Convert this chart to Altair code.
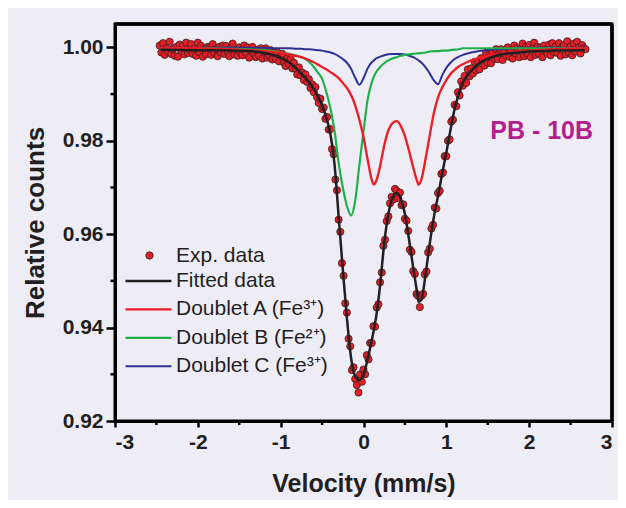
import altair as alt
import pandas as pd

# ---------------- data ----------------
comp_v = [-2.45, -2.0, -1.6, -1.4, -1.2, -1.1, -1.0, -0.9, -0.8,
          -0.75, -0.7, -0.65, -0.6, -0.55, -0.5, -0.45, -0.4, -0.35, -0.3,
          -0.25, -0.2, -0.15, -0.1, -0.05, 0.0, 0.05, 0.1, 0.125, 0.15,
          0.2, 0.25, 0.3, 0.35, 0.4, 0.45, 0.5, 0.55, 0.6, 0.65, 0.665,
          0.7, 0.75, 0.8, 0.85, 0.9, 0.95, 1.0, 1.05, 1.1, 1.15, 1.2,
          1.3, 1.4, 1.6, 1.8, 2.0, 2.3, 2.67]

fitted = [0.9995, 0.9994, 0.9993, 0.9992, 0.9988, 0.9984, 0.9978, 0.9968, 0.9953,
          0.9944, 0.9935, 0.9924, 0.9911, 0.9895, 0.9876, 0.9850, 0.9815, 0.9750, 0.9638,
          0.9525, 0.9420, 0.9335, 0.9296, 0.9288, 0.9298, 0.9333, 0.9373, 0.9395, 0.9420,
          0.9490, 0.9580, 0.9643, 0.9677, 0.9688, 0.9676, 0.9643, 0.9588, 0.9528, 0.9472, 0.9455,
          0.9460, 0.9515, 0.9580, 0.9637, 0.9682, 0.9730, 0.9775, 0.9823, 0.9868, 0.9900, 0.9924,
          0.9950, 0.9966, 0.9982, 0.9988, 0.9991, 0.9993, 0.9994]

doublet_a = [0.9999, 0.9998, 0.9996, 0.9994, 0.9992, 0.9990, 0.9988, 0.9985, 0.9981,
             0.9979, 0.9976, 0.9972, 0.9968, 0.9963, 0.9958, 0.9953, 0.9947, 0.9941, 0.9934,
             0.9924, 0.9913, 0.9898, 0.9876, 0.9845, 0.9808, 0.9760, 0.9716, 0.9706, 0.9712,
             0.9745, 0.9790, 0.9822, 0.9838, 0.9842, 0.9832, 0.9810, 0.9778, 0.9743, 0.9712, 0.9706,
             0.9718, 0.9762, 0.9812, 0.9860, 0.9893, 0.9914, 0.9930, 0.9943, 0.9952, 0.9959, 0.9964,
             0.9972, 0.9978, 0.9985, 0.9990, 0.9993, 0.9996, 0.9998]

doublet_b = [0.9998, 0.9998, 0.9997, 0.9996, 0.9994, 0.9992, 0.9989, 0.9986, 0.9982,
             0.9979, 0.9975, 0.9968, 0.9958, 0.9946, 0.9933, 0.9905, 0.9870, 0.9822, 0.9752,
             0.9700, 0.9660, 0.9640, 0.9672, 0.9748, 0.9820, 0.9888, 0.9925, 0.9937, 0.9946,
             0.9958, 0.9966, 0.9972, 0.9976, 0.9979, 0.9982, 0.9984, 0.9985, 0.9986, 0.9987, 0.9987,
             0.9988, 0.9989, 0.9991, 0.9992, 0.9992, 0.9993, 0.9993, 0.9994, 0.9995, 0.9996, 0.9998,
             0.9998, 0.9998, 0.9998, 0.9998, 0.9998, 0.9998, 0.9998]

doublet_c = [0.9999, 0.9999, 0.9999, 0.9999, 0.9999, 0.9998, 0.9998, 0.9998, 0.9997,
             0.9997, 0.9996, 0.9996, 0.9995, 0.9994, 0.9993, 0.9991, 0.9989, 0.9986, 0.9981,
             0.9975, 0.9967, 0.9954, 0.9935, 0.9920, 0.9934, 0.9955, 0.9968, 0.9972, 0.9976,
             0.9980, 0.9983, 0.9985, 0.9986, 0.9986, 0.9986, 0.9985, 0.9982, 0.9979, 0.9974, 0.9972,
             0.9967, 0.9957, 0.9944, 0.9929, 0.9921, 0.9940, 0.9956, 0.9967, 0.9975, 0.9980, 0.9984,
             0.9989, 0.9992, 0.9996, 0.9998, 0.9999, 0.9999, 0.9999]

exp_v = [-2.46, -2.44, -2.42, -2.40, -2.38, -2.36, -2.34, -2.32, -2.30, -2.28,
         -2.26, -2.24, -2.22, -2.20, -2.18, -2.16, -2.14, -2.12, -2.10, -2.08,
         -2.06, -2.04, -2.02, -2.00, -1.98, -1.96, -1.94, -1.92, -1.90, -1.88,
         -1.86, -1.84, -1.82, -1.80, -1.78, -1.76, -1.74, -1.72, -1.70, -1.68,
         -1.66, -1.64, -1.62, -1.60, -1.58, -1.56, -1.54, -1.52, -1.50, -1.48,
         -1.46, -1.44, -1.42, -1.40, -1.38, -1.36, -1.34, -1.32, -1.30, -1.28,
         -1.26, -1.24, -1.22, -1.20, -1.18, -1.16, -1.14, -1.12, -1.10, -1.08,
         -1.06, -1.04, -1.02, -1.00, -0.98, -0.96, -0.94, -0.92, -0.90, -0.88,
         -0.86, -0.84, -0.82, -0.80, -0.78, -0.76, -0.74, -0.72, -0.70, -0.68,
         -0.66, -0.64, -0.62, -0.60, -0.58, -0.56, -0.54, -0.52, -0.50, -0.48,
         -0.46, -0.44, -0.42, -0.40, -0.38, -0.36, -0.34, -0.32, -0.30, -0.28,
         -0.26, -0.24, -0.22, -0.20, -0.18, -0.16, -0.14, -0.12, -0.10, -0.08,
         -0.06, -0.04, -0.02, 0.00, 0.02, 0.04, 0.06, 0.08, 0.10, 0.12,
         0.14, 0.16, 0.18, 0.20, 0.22, 0.24, 0.26, 0.28, 0.30, 0.32,
         0.34, 0.36, 0.38, 0.40, 0.42, 0.44, 0.46, 0.48, 0.50, 0.52,
         0.54, 0.56, 0.58, 0.60, 0.62, 0.64, 0.66, 0.68, 0.70, 0.72,
         0.74, 0.76, 0.78, 0.80, 0.82, 0.84, 0.86, 0.88, 0.90, 0.92,
         0.94, 0.96, 0.98, 1.00, 1.02, 1.04, 1.06, 1.08, 1.10, 1.12,
         1.14, 1.16, 1.18, 1.20, 1.22, 1.24, 1.26, 1.28, 1.30, 1.32,
         1.34, 1.36, 1.38, 1.40, 1.42, 1.44, 1.46, 1.48, 1.50, 1.52,
         1.54, 1.56, 1.58, 1.60, 1.62, 1.64, 1.66, 1.68, 1.70, 1.72,
         1.74, 1.76, 1.78, 1.80, 1.82, 1.84, 1.86, 1.88, 1.90, 1.92,
         1.94, 1.96, 1.98, 2.00, 2.02, 2.04, 2.06, 2.08, 2.10, 2.12,
         2.14, 2.16, 2.18, 2.20, 2.22, 2.24, 2.26, 2.28, 2.30, 2.32,
         2.34, 2.36, 2.38, 2.40, 2.42, 2.44, 2.46, 2.48, 2.50, 2.52,
         2.54, 2.56, 2.58, 2.60, 2.62, 2.64, 2.66, 2.68]

exp_counts = [1.0004, 0.9989, 1.0009, 0.9984, 0.9998, 0.9991, 1.0012, 0.9986, 0.9997, 0.9982,
              1.0001, 0.9980, 1.0006, 0.9992, 1.0003, 0.9985, 1.0010, 0.9988, 0.9995, 1.0007,
              0.9986, 0.9998, 0.9982, 1.0010, 0.9989, 1.0003, 0.9980, 0.9997, 0.9985, 1.0001,
              0.9999, 0.9984, 1.0007, 0.9988, 0.9996, 0.9981, 1.0001, 0.9989, 1.0004, 0.9986,
              1.0003, 0.9990, 0.9981, 0.9999, 1.0008, 0.9985, 0.9994, 0.9982, 1.0000, 0.9988,
              0.9983, 1.0004, 0.9988, 1.0000, 0.9978, 0.9994, 1.0001, 0.9985, 0.9979, 0.9995,
              0.9982, 0.9998, 0.9976, 0.9992, 0.9998, 0.9978, 0.9983, 0.9994, 0.9974, 0.9989,
              0.9976, 0.9989, 0.9970, 0.9981, 0.9986, 0.9967, 0.9960, 0.9976, 0.9964, 0.9975,
              0.9955, 0.9967, 0.9954, 0.9942, 0.9957, 0.9940, 0.9946, 0.9930, 0.9942, 0.9926,
              0.9932, 0.9913, 0.9921, 0.9904, 0.9915, 0.9893, 0.9881, 0.9890, 0.9868, 0.9871,
              0.9847, 0.9851, 0.9824, 0.9825, 0.9782, 0.9771, 0.9717, 0.9694, 0.9631, 0.9605,
              0.9538, 0.9511, 0.9452, 0.9432, 0.9376, 0.9360, 0.9309, 0.9315, 0.9290, 0.9277,
              0.9261, 0.9300, 0.9284, 0.9310, 0.9300, 0.9341, 0.9332, 0.9367, 0.9367, 0.9403,
              0.9402, 0.9443, 0.9450, 0.9497, 0.9518, 0.9575, 0.9588, 0.9628, 0.9638, 0.9666,
              0.9680, 0.9674, 0.9697, 0.9693, 0.9677, 0.9689, 0.9662, 0.9664, 0.9633, 0.9629,
              0.9607, 0.9567, 0.9562, 0.9521, 0.9515, 0.9472, 0.9468, 0.9444, 0.9468, 0.9472,
              0.9514, 0.9520, 0.9561, 0.9569, 0.9612, 0.9620, 0.9657, 0.9655, 0.9688, 0.9693,
              0.9729, 0.9732, 0.9767, 0.9767, 0.9800, 0.9803, 0.9841, 0.9845, 0.9877, 0.9874,
              0.9904, 0.9897, 0.9927, 0.9918, 0.9939, 0.9924, 0.9953, 0.9938, 0.9955, 0.9944,
              0.9969, 0.9951, 0.9969, 0.9953, 0.9977, 0.9973, 0.9961, 0.9988, 0.9967, 0.9984,
              0.9966, 0.9988, 0.9975, 0.9996, 0.9975, 0.9987, 0.9996, 0.9973, 0.9992, 0.9982,
              1.0000, 0.9980, 0.9992, 0.9976, 1.0004, 0.9986, 0.9998, 0.9979, 0.9997, 1.0008,
              0.9981, 1.0001, 0.9986, 1.0005, 0.9979, 0.9997, 1.0010, 0.9984, 1.0001, 0.9986,
              1.0000, 0.9979, 1.0004, 0.9995, 0.9986, 1.0006, 0.9983, 1.0009, 0.9990, 1.0002,
              0.9988, 1.0009, 0.9982, 1.0000, 1.0005, 0.9985, 1.0013, 0.9989, 1.0002, 0.9983,
              1.0008, 0.9991, 1.0012, 1.0000, 0.9987, 1.0005, 0.9998, 0.9996]

series_names = ["Fitted data", "Doublet A (Fe\u00b3\u207a)", "Doublet B (Fe\u00b2\u207a)", "Doublet C (Fe\u00b3\u207a)"]
series_colors = ["#231F20", "#EE1D25", "#1EB04B", "#2E3192"]
series_widths = [2.5, 2.0, 2.5, 1.0]

x_range = [-3, 3]
y_range = [0.92, 1.005]
x_ticks = [-3, -2, -1, 0, 1, 2, 3]
x_minor = [-2.5, -1.5, -0.5, 0.5, 1.5, 2.5]
y_ticks = [0.92, 0.94, 0.96, 0.98, 1.00]
y_minor = [0.93, 0.95, 0.97, 0.99]

sample_label = ["PB - 10B"]
label_v = [1.53]
label_c = [0.982]

# ---------------- tables ----------------
rows = []
for name, vals in [(series_names[3], doublet_c), (series_names[2], doublet_b),
                   (series_names[1], doublet_a), (series_names[0], fitted)]:
    for v, c in zip(comp_v, vals):
        rows.append({"v": v, "c": c, "series": name})
lines_df = pd.DataFrame(rows)
exp_df = pd.DataFrame({"v": exp_v, "c": exp_counts, "kind": ["Exp. data"] * len(exp_v)})
label_df = pd.DataFrame({"v": label_v, "c": label_c, "text": sample_label})
# frame edges (top and right) along the scale limits
frame_df = pd.DataFrame({"v": [x_range[0], x_range[1]], "v2": [x_range[1], x_range[1]],
                         "c": [y_range[1], y_range[0]], "c2": [y_range[1], y_range[1]]})

FONT = "Liberation Sans"
W, H = 497, 397

x_enc = alt.X("v:Q", scale=alt.Scale(domain=x_range, nice=False, zero=False),
              axis=alt.Axis(values=x_ticks, title="Velocity (mm/s)", tickSize=6,
                            labelPadding=4, titlePadding=19, titleFontSize=25,
                            labelExpr="datum.value < 0 ? '-' + abs(datum.value) : '' + datum.value"))
y_enc = alt.Y("c:Q", scale=alt.Scale(domain=y_range, nice=False, zero=False),
              axis=alt.Axis(values=y_ticks, title="Relative counts", format=".2f",
                            tickSize=9, labelPadding=3, titlePadding=14, titleFontSize=26))

leg_common = dict(title=None, orient="none", labelFont=FONT, labelFontSize=21,
                  labelColor="#231F20", labelLimit=300, clipHeight=21, padding=0)

leg_points = alt.Legend(legendX=24, legendY=221, symbolType="circle", symbolSize=55,
                        symbolStrokeColor="#3a2020", symbolStrokeWidth=0.8,
                        labelOffset=16, **leg_common)
leg_lines = alt.Legend(legendX=9, legendY=246.5, symbolType="stroke", symbolSize=2116,
                       labelOffset=3, rowPadding=6.4, **leg_common)

frame = alt.Chart(frame_df).mark_rule(color="#000000", strokeWidth=3.5).encode(
    x=x_enc, x2="v2:Q", y=y_enc, y2="c2:Q")

x_minor_rules = alt.Chart(pd.DataFrame({"v": x_minor})).mark_rule(
    color="black", strokeWidth=2.5).encode(x=x_enc, y=alt.value(H), y2=alt.value(H + 4))
y_minor_rules = alt.Chart(pd.DataFrame({"c": y_minor})).mark_rule(
    color="black", strokeWidth=2.5).encode(y=y_enc, x=alt.value(-4.5), x2=alt.value(0))

points = alt.Chart(exp_df).mark_circle(size=52, stroke="#3a2020", strokeWidth=0.8,
                                       opacity=1).encode(
    x=x_enc, y=y_enc,
    fill=alt.Fill("kind:N", scale=alt.Scale(domain=["Exp. data"], range=["#E41E26"]),
                  legend=leg_points))

lines = alt.Chart(lines_df).mark_line(interpolate="monotone").encode(
    x=x_enc, y=y_enc,
    color=alt.Color("series:N", scale=alt.Scale(domain=series_names, range=series_colors),
                    legend=leg_lines),
    strokeWidth=alt.StrokeWidth("series:N",
                                scale=alt.Scale(domain=series_names, range=series_widths),
                                legend=leg_lines))

label = alt.Chart(label_df).mark_text(align="left", baseline="middle", font=FONT,
                                      fontSize=25, fontWeight="bold",
                                      color="#B41E8E").encode(x=x_enc, y=y_enc, text="text:N")

chart = alt.layer(x_minor_rules, y_minor_rules, points, lines, label, frame).properties(
    width=W, height=H,
    padding={"left": 107, "top": 16, "right": 6, "bottom": 79},
    autosize=alt.AutoSizeParams(type="none"),
    background="#EEEDF6",
).configure_view(stroke="#000000", strokeWidth=3).configure_axis(
    labelFont=FONT, labelFontWeight="bold", labelFontSize=21, labelColor="#231F20",
    titleFont=FONT, titleFontWeight="bold", titleColor="#231F20",
    domainColor="black", domainWidth=3, tickColor="black", tickWidth=2.5, grid=False,
)

chart.save("out.html", embed_options={"renderer": "svg", "actions": False})
